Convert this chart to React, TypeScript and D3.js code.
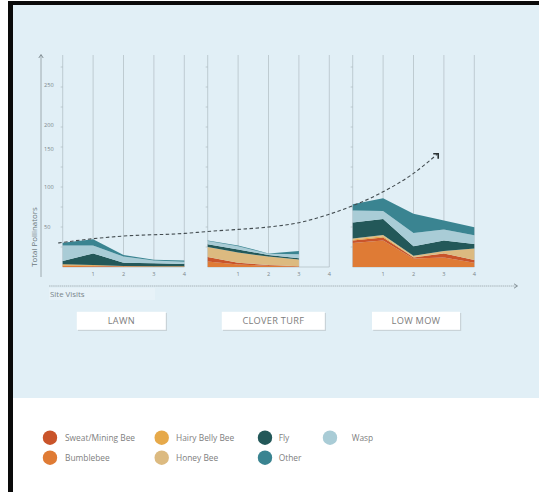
import * as d3 from "d3";

// species, stacked bottom -> top
const species = ["Bumblebee", "Sweat/Mining Bee", "Hairy Belly Bee", "Honey Bee", "Fly", "Wasp", "Other"];
const speciesColors = ["#df7b35", "#c9542a", "#e6a94a", "#dcba80", "#235859", "#a9ccd6", "#3a8491"];

const panels = ["LAWN", "CLOVER TURF", "LOW MOW"];
const visitTicks = [1, 2, 3, 4];

// values per panel (lawn, clover turf, low mow), one entry per site visit
const bumblebee = [[1.5, 1, 0.5, 0.5, 0.5], [7, 3, 1.5, 0.5], [30, 33, 10.5, 12, 5.4]];
const sweatMining = [[0.5, 0.5, 0.3, 0.2, 0.2], [5.5, 2.4, 1, 0.5], [3, 4, 1.5, 5, 3.3]];
const hairyBelly = [[1.5, 1, 0.4, 0.3, 0.3], [0, 0, 0, 0], [1.5, 1.5, 0.5, 0, 0]];
const honeyBee = [[0, 0, 0, 0, 0], [12.5, 12.6, 10.5, 8.5], [1, 1.5, 1.5, 3, 14.3]];
const fly = [[4, 14.5, 4.2, 3.6, 2.8], [3.5, 4, 2, 1.5], [20, 20, 12, 13, 5.7]];
const wasp = [[19.5, 10, 7.6, 3.4, 2.9], [4, 4, 1.5, 5], [15, 10, 16.5, 14, 10.9]];
const other = [[3.4, 7.6, 2, 1, 1.3], [0.5, 1, 0.5, 4], [8, 16, 24, 11, 10]];

// dashed trend: [panel index, visit position, total]
const trend: [number, number, number][] = [
  [0, -0.15, 30], [0, 1, 35.4], [0, 2, 38.7], [0, 4, 42], [1, 0, 44.4], [1, 1, 47],
  [1, 2, 50], [1, 3, 55.4], [1, 4, 66], [2, 0, 76.6], [2, 1, 94], [2, 2, 117], [2, 2.78, 141],
];

// the printed labels do not sit on the even ticks in the original
const yLabels = ["50", "100", "150", "200", "250"];
const yLabelAt = [50, 100, 147.5, 177.5, 227.5];
const yMinorTicks = d3.range(25, 251, 25);

const legendCols = [["Sweat/Mining Bee", "Bumblebee"], ["Hairy Belly Bee", "Honey Bee"], ["Fly", "Other"], ["Wasp"]];

const font = "'Open Sans', sans-serif";

export default function App() {
  const W = 539, H = 492;
  const y = d3.scaleLinear().domain([0, 265]).range([267, 55]);
  const panelX = d3.scaleBand().domain(panels).range([62.7, 62.7 + 3 * 145]);
  const visitX = d3.scaleLinear().domain([0, 4]).range([0, 121.6]);
  const gx = (p: number, v: number) => (panelX(panels[p]) ?? 0) + visitX(v);

  const series = [bumblebee, sweatMining, hairyBelly, honeyBee, fly, wasp, other];

  const stacks = panels.map((_, p) => {
    const n = bumblebee[p].length;
    const rows = d3.range(n).map((i) => {
      const r: any = { visit: i };
      species.forEach((s, k) => (r[s] = series[k][p][i]));
      return r;
    });
    return d3.stack<any>().keys(species)(rows);
  });

  const trendLine = d3
    .line<[number, number, number]>()
    .x((d) => gx(d[0], d[1]))
    .y((d) => y(d[2]))
    .curve(d3.curveMonotoneX);
  const last = trend[trend.length - 1];
  const ax = gx(last[0], last[1]), ay = y(last[2]);

  const legendX = [50, 161.7, 265, 330];
  const legendTextX = [65, 176, 278.7, 351.7];
  const legendY = d3.scalePoint<number>().domain([0, 1]).range([437.7, 457.7]);

  const boxW = [89, 103, 88];
  const boxShift = [-2.2, 4.8, 2.5];

  return (
    <svg width={W} height={H} style={{ position: "absolute", left: 0, top: 0 }} fontFamily={font}>
      <rect x={0} y={0} width={W} height={H} fill="#ffffff" />
      <rect x={13} y={5} width={W - 13} height={393} fill="#e1eff6" />
      <rect x={8} y={1} width={5} height={H} fill="#0a0a0a" />
      <rect x={8} y={1} width={W - 8} height={4} fill="#0a0a0a" />

      {/* y axis */}
      <line x1={41} x2={41} y1={55} y2={277} stroke="#8e999e" strokeWidth={0.8} />
      <path d="M38.8,58 L41,54.5 L43.2,58" fill="none" stroke="#6f7a80" strokeWidth={0.8} />
      {yLabels.map((t, i) => (
        <text key={t} x={44} y={y(yLabelAt[i])} dy="0.35em" fontSize={5.6} fill="#7b868b">
          {t}
        </text>
      ))}
      <text transform={`translate(37,237) rotate(-90)`} textAnchor="middle" fontSize={7.9} fill="#6b777c">
        Total Pollinators
      </text>

      {/* x axis */}
      <line x1={49} x2={517} y1={286} y2={286} stroke="#9ba6ab" strokeWidth={0.8} strokeDasharray="1.5,0.6" />
      <path d="M514,283.8 L517.5,286 L514,288.2" fill="none" stroke="#6f7a80" strokeWidth={0.8} />
      <rect x={49} y={288} width={106} height={12} fill="#e7f2f8" />
      <text x={50} y={296.8} fontSize={7.9} fill="#78848a">
        Site Visits
      </text>

      {panels.map((name, p) => {
        const x0 = panelX(name) ?? 0;
        const cx = x0 + visitX(2) + boxShift[p];
        const area = d3
          .area<any>()
          .x((d) => x0 + visitX(d.data.visit))
          .y0((d) => y(d[0]))
          .y1((d) => y(d[1]));
        return (
          <g key={name}>
            {[0, 1, 2, 3, 4].map((v) => (
              <line
                key={v}
                x1={x0 + visitX(v)}
                x2={x0 + visitX(v)}
                y1={55}
                y2={267}
                stroke="#a6b2b8"
                strokeWidth={0.6}
              />
            ))}
            {yMinorTicks.map((t) => (
              <line key={t} x1={x0 - 2} x2={x0} y1={y(t)} y2={y(t)} stroke="#a6b2b8" strokeWidth={0.6} />
            ))}
            <line x1={x0} x2={x0 + visitX(4)} y1={267} y2={267} stroke="#a6b2b8" strokeWidth={0.6} />
            {stacks[p].map((s, k) => (
              <path key={s.key} d={area(s) ?? ""} fill={speciesColors[k]} />
            ))}
            {visitTicks.map((v) => (
              <text key={v} x={x0 + visitX(v)} y={275.5} textAnchor="middle" fontSize={5.6} fill="#7b868b">
                {v}
              </text>
            ))}
            <rect x={cx - boxW[p] / 2 + 1.2} y={313} width={boxW[p]} height={18} fill="#c9d3d8" />
            <rect x={cx - boxW[p] / 2} y={311.8} width={boxW[p]} height={18} fill="#ffffff" />
            <text x={cx} y={321} dy="0.35em" textAnchor="middle" fontSize={9.2} fill="#7d7d7d" letterSpacing={0.3}>
              {name}
            </text>
          </g>
        );
      })}

      {/* trend */}
      <path d={trendLine(trend) ?? ""} fill="none" stroke="#434c50" strokeWidth={1.1} strokeDasharray="3.5,2.5" />
      <path
        d={`M${ax - 4},${ay - 0.5} L${ax + 1},${ay - 0.5} L${ax + 1},${ay + 4.5}`}
        fill="none"
        stroke="#2b3234"
        strokeWidth={1.6}
      />

      {/* legend */}
      {legendCols.map((col, c) =>
        col.map((label, r) => (
          <g key={label}>
            <circle cx={legendX[c]} cy={legendY(r)} r={7.2} fill={speciesColors[species.indexOf(label)]} />
            <text x={legendTextX[c]} y={legendY(r)} dy="0.35em" fontSize={8.4} fill="#808080">
              {label}
            </text>
          </g>
        ))
      )}
    </svg>
  );
}
